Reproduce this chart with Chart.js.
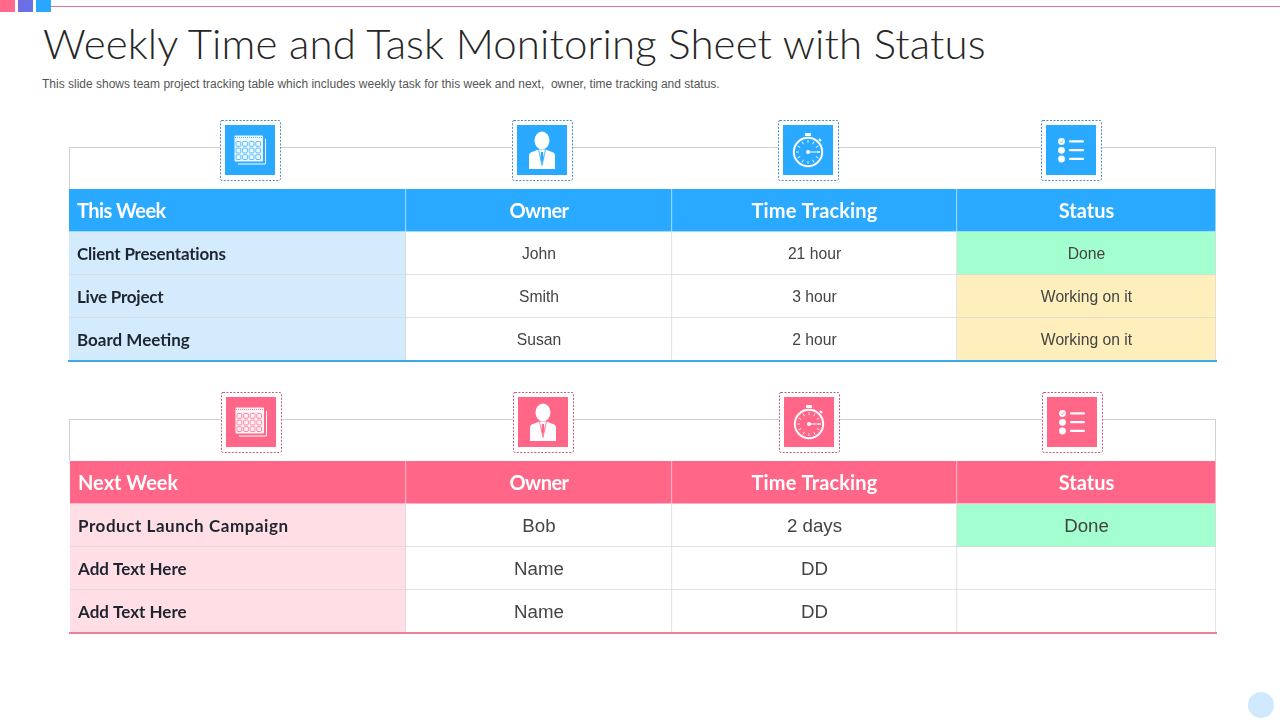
<!DOCTYPE html>
<html>
<head>
<meta charset="utf-8">
<title>Weekly Time and Task Monitoring Sheet with Status</title>
<script src="https://cdn.jsdelivr.net/npm/chart.js@4"></script>
<style>
    html, body { margin: 0; padding: 0; background: #fff; }
    #page { position: relative; width: 1280px; height: 720px; overflow: hidden; background: #fff; }
    #page > * { position: absolute; }
    #title { left: 43px; top: 18px; font: 300 42px Lato, sans-serif; color: #262626; white-space: nowrap; letter-spacing: 0.12px; }
    #subtitle { left: 42px; top: 77px; font: 12px "Liberation Sans", sans-serif; color: #555; white-space: pre; }
    .panel { border: 1px solid #d2d2d2; border-bottom: none; box-sizing: border-box; }
    .icon { background: #fff; }
</style>
</head>
<body>
<div id="page">
    <div style="left:0;top:0;width:15px;height:12px;background:#ff6a8b"></div>
    <div style="left:18px;top:0;width:15px;height:12px;background:#6a6fe6"></div>
    <div style="left:36px;top:0;width:15px;height:12px;background:#2aa7ff"></div>
    <div style="left:51px;top:6px;width:1229px;height:1px;background:#d9789a"></div>
    <div id="title">Weekly Time and Task Monitoring Sheet with Status</div>
    <div id="subtitle">This slide shows team project tracking table which includes weekly task for this week and next,  owner, time tracking and status.</div>

    <div class="panel" style="left:69px;top:147px;width:1147px;height:42px"></div>
    <div class="panel" style="left:69px;top:419px;width:1147px;height:42px"></div>
    <canvas id="thisWeekChart" width="1147" height="172" style="left:69px;top:189px"></canvas>
    <canvas id="nextWeekChart" width="1146" height="172" style="left:70px;top:461px"></canvas>
    <div style="left:68px;top:360px;width:1149px;height:2px;background:#3da9ea"></div>
    <div style="left:69px;top:632px;width:1148px;height:2px;background:#ee7f98"></div>
    <div style="left:1248px;top:692px;width:26px;height:26px;border-radius:50%;background:#d0e9fd"></div>
</div>

<script>
// contenido de las tablas
const thisWeekHeaders = ['This Week', 'Owner', 'Time Tracking', 'Status'];
const thisWeekTasks = ['Client Presentations', 'Live Project', 'Board Meeting'];
const thisWeekOwners = ['John', 'Smith', 'Susan'];
const thisWeekTimes = ['21 hour', '3 hour', '2 hour'];
const thisWeekStatus = ['Done', 'Working on it', 'Working on it'];

const nextWeekHeaders = ['Next Week', 'Owner', 'Time Tracking', 'Status'];
const nextWeekTasks = ['Product Launch Campaign', 'Add Text Here', 'Add Text Here'];
const nextWeekOwners = ['Bob', 'Name', 'Name'];
const nextWeekTimes = ['2 days', 'DD', 'DD'];
const nextWeekStatus = ['Done', '', ''];

// anchos de columna, en unidades del eje x
const thisWeekWidths = [337, 266, 285, 259];
const nextWeekWidths = [336, 266, 285, 259];

const statusColors = { 'Done': '#a3ffcf', 'Working on it': '#feefbd', '': '#ffffff' };
const HEAD_FONT = 'bold 20px Lato, sans-serif';
const TASK_FONT = 'bold 17px Lato, sans-serif';

// ajuste fino de la fuente sustituta para igualar el ancho del original
const textSpacing = {
    'This Week': '-0.55px',
    'Owner': '-0.5px',
    'Time Tracking': '0.15px',
    'Client Presentations': '-0.2px',
    'Live Project': '-0.25px',
    'Product Launch Campaign': '0.55px'
};

// escribe el texto de cada celda sobre su barra
const cellText = {
    id: 'cellText',
    afterDatasetsDraw(chart) {
        const ctx = chart.ctx;
        chart.data.datasets.forEach((dataset, d) => {
            chart.getDatasetMeta(d).data.forEach((bar, i) => {
                const text = dataset.cellLabels[i];
                if (!text) return;
                ctx.save();
                ctx.textBaseline = 'middle';
                ctx.fillStyle = i === 0 ? '#ffffff' : dataset.textColor;
                ctx.font = i === 0 ? HEAD_FONT : dataset.cellFont;
                ctx.letterSpacing = textSpacing[text] || '0px';
                if (d === 0) {
                    ctx.textAlign = 'left';
                    ctx.fillText(text, bar.base + 8, bar.y + 1);
                } else {
                    ctx.textAlign = 'center';
                    ctx.fillText(text, (bar.base + bar.x) / 2, bar.y + 1);
                }
                ctx.restore();
            });
        });
    }
};

function buildTable(canvasId, widths, headers, tasks, owners, times, status, theme) {
    const rows = ['header', 'row 1', 'row 2', 'row 3'];
    const columns = [tasks, owners, times, status];
    const bodyFont = theme.bodyFont;

    const datasets = columns.map((cells, c) => {
        let fill;
        if (c === 0) {
            fill = cells.map(() => theme.light);
        } else if (c === 3) {
            fill = cells.map(s => statusColors[s]);
        } else {
            fill = cells.map(() => '#ffffff');
        }
        return {
            data: rows.map(() => widths[c]),
            backgroundColor: [theme.main].concat(fill),
            borderColor: [theme.headerLine, '#d8d8d8', '#d8d8d8', '#d8d8d8'],
            borderWidth: { right: 1, bottom: 1 },
            borderSkipped: false,
            categoryPercentage: 1,
            barPercentage: 1,
            cellLabels: [headers[c]].concat(cells),
            cellFont: c === 0 ? TASK_FONT : bodyFont,
            textColor: c === 0 ? '#1e2530' : '#444444'
        };
    });

    return new Chart(document.getElementById(canvasId), {
        type: 'bar',
        data: { labels: rows, datasets: datasets },
        options: {
            indexAxis: 'y',
            responsive: false,
            animation: false,
            devicePixelRatio: 1,
            layout: { padding: 0 },
            plugins: { legend: { display: false }, tooltip: { enabled: false }, title: { display: false } },
            scales: {
                x: { stacked: true, display: false, min: 0, max: widths.reduce((a, b) => a + b, 0) },
                y: { stacked: true, display: false }
            }
        },
        plugins: [cellText]
    });
}

// iconos de las cabeceras, dibujados en svg sobre un recuadro punteado
function iconShapes(kind, color) {
    if (kind === 'calendar') {
        let cells = '';
        for (let r = 0; r < 3; r++) {
            for (let c = 0; c < 4; c++) {
                cells += `<rect x="${11 + c * 6.6}" y="${16.5 + r * 6.6}" width="4.8" height="4.8" rx="1" fill="none" stroke="${color}" stroke-width="1" opacity="0.75"/>`;
            }
        }
        return `<path d="M13 39H40.5V14" fill="none" stroke="#fff" stroke-width="1"/>
            <rect x="9.5" y="10.5" width="28.5" height="26" rx="1" fill="#fff" opacity="0.92"/>
            <path d="M10 12.5H38" stroke="${color}" stroke-width="0.8" stroke-dasharray="1 1"/>${cells}`;
    }
    if (kind === 'person') {
        return `<ellipse cx="25" cy="15.5" rx="7.5" ry="9" fill="#fff"/>
            <path d="M12 44V30.5q0-2.5 3-3.5l6.5-2.5h7L35 27q3 1 3 3.5V44z" fill="#fff"/>
            <path d="M21.5 24.5l3.5 16 3.5-16" fill="none" stroke="${color}" stroke-width="0.8"/>
            <path d="M24 27h2l.6 6-1.6 6-1.6-6z" fill="${color}"/>`;
    }
    if (kind === 'clock') {
        let ticks = '';
        for (let a = 0; a < 12; a++) {
            ticks += `<line x1="25" y1="15" x2="25" y2="18" stroke="#fff" stroke-width="0.8" transform="rotate(${a * 30} 25 27)"/>`;
        }
        return `<rect x="22" y="8" width="6" height="3" rx="1" fill="#fff"/>
            <line x1="36" y1="14" x2="38" y2="16" stroke="#fff" stroke-width="2"/>
            <circle cx="25" cy="27" r="14.2" fill="none" stroke="#fff" stroke-width="2"/>${ticks}
            <circle cx="25" cy="27" r="2" fill="#fff"/><line x1="25" y1="27" x2="37" y2="27" stroke="#fff" stroke-width="1"/>`;
    }
    return `<circle cx="15.5" cy="16.5" r="3.4" fill="#fff"/>
        <path d="M14 16.5l1.2 1.2 2-2.4" fill="none" stroke="${color}" stroke-width="0.8"/>
        <circle cx="15.5" cy="25.3" r="3.4" fill="#fff"/><circle cx="15.5" cy="34" r="3.4" fill="#fff"/>
        <rect x="23" y="15.3" width="15" height="2.2" rx="1" fill="#fff"/>
        <rect x="23" y="24" width="15" height="2.2" rx="1" fill="#fff"/>
        <rect x="23" y="32.8" width="15" height="2.2" rx="1" fill="#fff"/>`;
}

function addIcon(kind, left, top, color, dash) {
    const box = document.createElement('div');
    box.className = 'icon';
    box.style.left = (left - 5) + 'px';
    box.style.top = (top - 5) + 'px';
    box.style.width = '61px';
    box.style.height = '61px';
    box.innerHTML = `<svg width="61" height="61" xmlns="http://www.w3.org/2000/svg">
        <rect x="0.5" y="0.5" width="60" height="60" rx="1.5" fill="#fff" stroke="${dash}" stroke-width="1" stroke-dasharray="2 1.5"/>
        <g transform="translate(5 5)"><rect width="50" height="50" fill="${color}"/>${iconShapes(kind, color)}</g></svg>`;
    document.getElementById('page').appendChild(box);
}

document.addEventListener('DOMContentLoaded', function() {
    const kinds = ['calendar', 'person', 'clock', 'list'];
    const blueLeft = [225, 517, 783, 1046];
    const pinkLeft = [226, 518, 784, 1047];
    kinds.forEach((kind, i) => {
        addIcon(kind, blueLeft[i], 125, '#29a9ff', '#4a8fbd');
        addIcon(kind, pinkLeft[i], 397, '#ff6688', '#c45a7c');
    });

    buildTable('thisWeekChart', thisWeekWidths, thisWeekHeaders, thisWeekTasks, thisWeekOwners, thisWeekTimes, thisWeekStatus, {
        main: '#29a9ff', light: '#d3ebfd', headerLine: '#cfeaff', bodyFont: '15.7px "Liberation Sans", sans-serif'
    });
    buildTable('nextWeekChart', nextWeekWidths, nextWeekHeaders, nextWeekTasks, nextWeekOwners, nextWeekTimes, nextWeekStatus, {
        main: '#ff6688', light: '#ffdfe5', headerLine: '#ffd5de', bodyFont: '18.7px "Liberation Sans", sans-serif'
    });
});
</script>
</body>
</html>
